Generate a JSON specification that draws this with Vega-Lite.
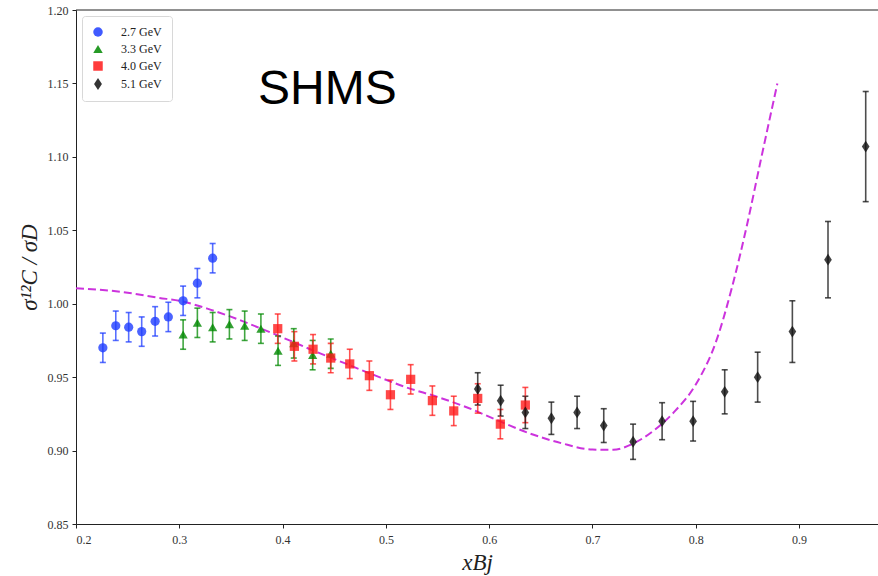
{
  "$schema": "https://vega.github.io/schema/vega-lite/v6.json",
  "width": 802,
  "height": 514,
  "autosize": "none",
  "padding": {"left": 76, "top": 10, "right": 0, "bottom": 52},
  "background": "white",
  "config": {
    "view": {"stroke": null},
    "axis": {
      "labelFont": "Liberation Serif",
      "labelFontSize": 12,
      "labelColor": "#333",
      "titleFont": "Liberation Serif",
      "titleFontStyle": "italic",
      "titleFontWeight": "normal",
      "titleColor": "#222",
      "domainColor": "#222",
      "tickColor": "#222",
      "tickSize": 4,
      "grid": false
    },
    "legend": {
      "title": null,
      "orient": "top-left",
      "offset": 6,
      "padding": 10,
      "strokeColor": "#d8d8d8",
      "cornerRadius": 3,
      "fillColor": "white",
      "labelFont": "Liberation Serif",
      "labelFontSize": 12,
      "labelColor": "#222",
      "rowPadding": 5,
      "symbolSize": 90,
      "labelOffset": 17,
      "symbolOpacity": 0.85,
      "symbolStrokeWidth": 0
    }
  },
  "datasets": {
    "points": [
      {"series": "2.7 GeV", "x": 0.226, "y": 0.970, "err": 0.010},
      {"series": "2.7 GeV", "x": 0.2385, "y": 0.985, "err": 0.010},
      {"series": "2.7 GeV", "x": 0.251, "y": 0.984, "err": 0.010},
      {"series": "2.7 GeV", "x": 0.2636, "y": 0.981, "err": 0.010},
      {"series": "2.7 GeV", "x": 0.2766, "y": 0.988, "err": 0.010},
      {"series": "2.7 GeV", "x": 0.2894, "y": 0.991, "err": 0.010},
      {"series": "2.7 GeV", "x": 0.3037, "y": 1.002, "err": 0.010},
      {"series": "2.7 GeV", "x": 0.3175, "y": 1.014, "err": 0.010},
      {"series": "2.7 GeV", "x": 0.3323, "y": 1.031, "err": 0.010},
      {"series": "3.3 GeV", "x": 0.3037, "y": 0.979, "err": 0.010},
      {"series": "3.3 GeV", "x": 0.3175, "y": 0.987, "err": 0.010},
      {"series": "3.3 GeV", "x": 0.3323, "y": 0.984, "err": 0.010},
      {"series": "3.3 GeV", "x": 0.3485, "y": 0.986, "err": 0.010},
      {"series": "3.3 GeV", "x": 0.3633, "y": 0.985, "err": 0.010},
      {"series": "3.3 GeV", "x": 0.379, "y": 0.983, "err": 0.010},
      {"series": "3.3 GeV", "x": 0.3956, "y": 0.968, "err": 0.010},
      {"series": "3.3 GeV", "x": 0.4108, "y": 0.973, "err": 0.010},
      {"series": "3.3 GeV", "x": 0.4291, "y": 0.965, "err": 0.010},
      {"series": "3.3 GeV", "x": 0.4466, "y": 0.966, "err": 0.010},
      {"series": "4.0 GeV", "x": 0.3953, "y": 0.983, "err": 0.010},
      {"series": "4.0 GeV", "x": 0.4114, "y": 0.971, "err": 0.010},
      {"series": "4.0 GeV", "x": 0.4295, "y": 0.969, "err": 0.010},
      {"series": "4.0 GeV", "x": 0.4466, "y": 0.963, "err": 0.010},
      {"series": "4.0 GeV", "x": 0.465, "y": 0.959, "err": 0.010},
      {"series": "4.0 GeV", "x": 0.484, "y": 0.951, "err": 0.010},
      {"series": "4.0 GeV", "x": 0.5044, "y": 0.938, "err": 0.010},
      {"series": "4.0 GeV", "x": 0.524, "y": 0.9485, "err": 0.010},
      {"series": "4.0 GeV", "x": 0.545, "y": 0.934, "err": 0.010},
      {"series": "4.0 GeV", "x": 0.5657, "y": 0.927, "err": 0.010},
      {"series": "4.0 GeV", "x": 0.5889, "y": 0.9355, "err": 0.010},
      {"series": "4.0 GeV", "x": 0.6108, "y": 0.918, "err": 0.010},
      {"series": "4.0 GeV", "x": 0.635, "y": 0.931, "err": 0.012},
      {"series": "5.1 GeV", "x": 0.5889, "y": 0.942, "err": 0.011},
      {"series": "5.1 GeV", "x": 0.6111, "y": 0.934, "err": 0.0105},
      {"series": "5.1 GeV", "x": 0.635, "y": 0.926, "err": 0.011},
      {"series": "5.1 GeV", "x": 0.6602, "y": 0.922, "err": 0.011},
      {"series": "5.1 GeV", "x": 0.6851, "y": 0.926, "err": 0.011},
      {"series": "5.1 GeV", "x": 0.7109, "y": 0.917, "err": 0.0115},
      {"series": "5.1 GeV", "x": 0.7393, "y": 0.906, "err": 0.012},
      {"series": "5.1 GeV", "x": 0.7674, "y": 0.920, "err": 0.0126},
      {"series": "5.1 GeV", "x": 0.7974, "y": 0.920, "err": 0.0135},
      {"series": "5.1 GeV", "x": 0.828, "y": 0.940, "err": 0.015},
      {"series": "5.1 GeV", "x": 0.8599, "y": 0.950, "err": 0.017},
      {"series": "5.1 GeV", "x": 0.8935, "y": 0.981, "err": 0.021},
      {"series": "5.1 GeV", "x": 0.928, "y": 1.030, "err": 0.026},
      {"series": "5.1 GeV", "x": 0.9645, "y": 1.107, "err": 0.0375}
    ],
    "curve": [
      {"x": 0.20, "y": 1.0106},
      {"x": 0.25, "y": 1.0075},
      {"x": 0.28, "y": 1.0040},
      {"x": 0.30, "y": 1.0020},
      {"x": 0.33, "y": 0.9960},
      {"x": 0.36, "y": 0.9885},
      {"x": 0.38, "y": 0.9828},
      {"x": 0.40, "y": 0.9770},
      {"x": 0.43, "y": 0.9680},
      {"x": 0.46, "y": 0.9595},
      {"x": 0.49, "y": 0.9510},
      {"x": 0.52, "y": 0.9430},
      {"x": 0.55, "y": 0.9365},
      {"x": 0.58, "y": 0.9290},
      {"x": 0.61, "y": 0.9200},
      {"x": 0.64, "y": 0.9115},
      {"x": 0.67, "y": 0.9050},
      {"x": 0.70, "y": 0.9007},
      {"x": 0.72, "y": 0.9005},
      {"x": 0.74, "y": 0.9050},
      {"x": 0.76, "y": 0.9140},
      {"x": 0.78, "y": 0.9270},
      {"x": 0.80, "y": 0.9450},
      {"x": 0.82, "y": 0.9750},
      {"x": 0.835, "y": 1.0110},
      {"x": 0.85, "y": 1.0550},
      {"x": 0.863, "y": 1.0980},
      {"x": 0.879, "y": 1.1500}
    ],
    "label": [
      {"x": 0.4434, "y": 1.1455, "text": "SHMS"}
    ]
  },
  "layer": [
    {
      "data": {"name": "curve"},
      "mark": {"type": "line", "color": "#cc33dd", "strokeWidth": 2, "strokeDash": [8, 4], "interpolate": "monotone", "clip": true},
      "encoding": {
        "x": {"field": "x", "type": "quantitative", "title": "xBj", "scale": {"domain": [0.2, 0.9764], "nice": false, "zero": false},
          "axis": {"values": [0.2, 0.3, 0.4, 0.5, 0.6, 0.7, 0.8, 0.9], "format": ".1f", "titleFontSize": 23, "titlePadding": 6, "labelPadding": 6}},
        "y": {"field": "y", "type": "quantitative", "title": "σ¹²C / σD", "scale": {"domain": [0.85, 1.2], "nice": false, "zero": false},
          "axis": {"values": [0.85, 0.9, 0.95, 1.0, 1.05, 1.1, 1.15, 1.2], "format": ".2f", "titleFontSize": 23, "titlePadding": 6, "labelPadding": 4}}
      }
    },
    {
      "data": {"name": "points"},
      "mark": {"type": "errorbar", "ticks": {"size": 6}, "thickness": 1.6, "opacity": 0.75},
      "encoding": {
        "x": {"field": "x", "type": "quantitative", "title": "xBj"},
        "y": {"field": "y", "type": "quantitative", "title": "σ¹²C / σD"},
        "yError": {"field": "err"},
        "color": {"field": "series", "type": "nominal",
          "scale": {"domain": ["2.7 GeV", "3.3 GeV", "4.0 GeV", "5.1 GeV"], "range": ["#1f3dff", "#008800", "#ff1a1a", "#111111"]}}
      }
    },
    {
      "data": {"name": "points"},
      "mark": {"type": "point", "filled": true, "opacity": 0.8, "strokeWidth": 0},
      "encoding": {
        "x": {"field": "x", "type": "quantitative", "title": "xBj"},
        "y": {"field": "y", "type": "quantitative", "title": "σ¹²C / σD"},
        "color": {"field": "series", "type": "nominal",
          "scale": {"domain": ["2.7 GeV", "3.3 GeV", "4.0 GeV", "5.1 GeV"], "range": ["#1f3dff", "#008800", "#ff1a1a", "#111111"]}},
        "shape": {"field": "series", "type": "nominal",
          "scale": {"domain": ["2.7 GeV", "3.3 GeV", "4.0 GeV", "5.1 GeV"], "range": ["circle", "triangle-up", "square", "M0,-1.28L0.83,0L0,1.28L-0.83,0Z"]}},
        "size": {"value": 85}
      }
    },
    {
      "data": {"name": "label"},
      "mark": {"type": "text", "font": "Liberation Sans", "fontSize": 48, "color": "#000", "align": "center", "baseline": "middle"},
      "encoding": {
        "x": {"field": "x", "type": "quantitative", "title": "xBj"},
        "y": {"field": "y", "type": "quantitative", "title": "σ¹²C / σD"},
        "text": {"field": "text"}
      }
    },
    {
      "data": {"values": [{}]},
      "mark": {"type": "rule", "color": "#222", "strokeWidth": 1},
      "encoding": {
        "x": {"datum": 0.2, "title": "xBj"},
        "x2": {"datum": 0.9764},
        "y": {"datum": 1.2, "title": "σ¹²C / σD"}
      }
    }
  ]
}
